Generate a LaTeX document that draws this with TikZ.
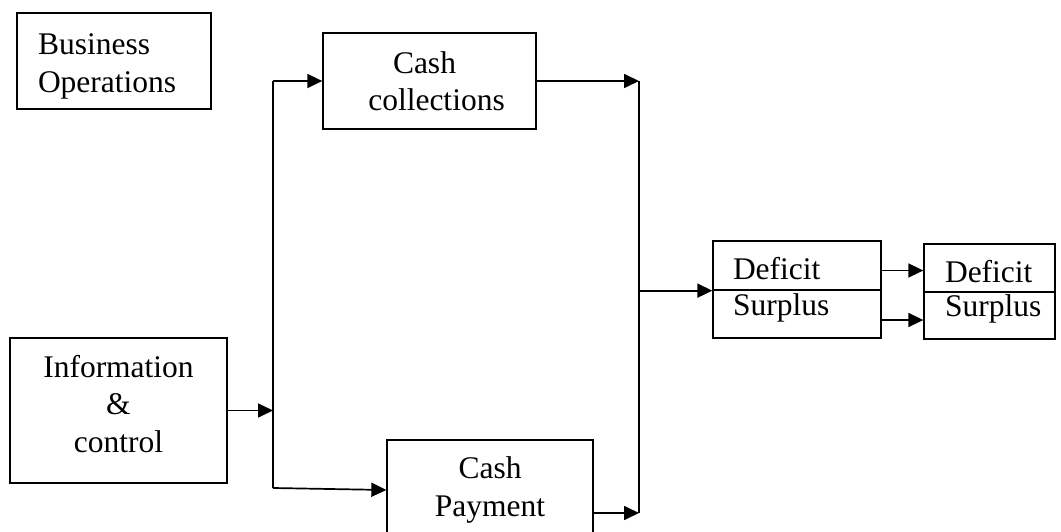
\documentclass[tikz,border=0pt]{standalone}
\usepackage{fontspec}
\setmainfont{Liberation Serif}
\usetikzlibrary{arrows.meta}

\begin{document}
\begin{tikzpicture}[x=1pt,y=-1pt,
    box/.style={draw,line width=1.3pt,font=\fontsize{31.5}{37.5}\selectfont},
    cell/.style={box,align=left,inner xsep=20pt,inner ysep=2pt,text width=#1},
    arr/.style={line width=1.7pt,-{Triangle[length=15pt,width=14pt]}}]
    \useasboundingbox (0,0) rectangle (1061,532);
    \node[box,minimum width=194pt,minimum height=96pt,text width=152pt,inner xsep=21pt,align=left] (biz) at (114,61) {\rule{0pt}{32pt}Business\\Operations};
    \node[box,minimum width=213pt,minimum height=96pt,align=center] (coll) at (429.5,81) {Cash\hspace*{10pt}\\\hspace*{14pt}collections};
    \node[box,minimum width=217pt,minimum height=145pt,align=center] (info) at (118.5,410.5) {Information\\\&\\control\rule[-13.5pt]{0pt}{0pt}};
    \node[box,minimum width=206pt,minimum height=100pt,align=center] (pay) at (490,490) {Cash\\Payment};
    % deficit / surplus boxes
    \node[cell=128pt,minimum width=168pt,minimum height=49pt,text height=28pt,text depth=0pt] (deftopa) at (797,265.5) {Deficit};
    \node[cell=128pt,minimum width=168pt,minimum height=48pt,text height=15pt,text depth=13pt] (surbota) at (797,314) {Surplus};
    \node[cell=89pt,inner xsep=21pt,minimum width=131pt,minimum height=48pt,text height=28pt,text depth=0pt] (deftopb) at (989.5,268) {Deficit};
    \node[cell=89pt,inner xsep=21pt,minimum width=131pt,minimum height=47pt,text height=15pt,text depth=13pt] (surbotb) at (989.5,315.5) {Surplus};
    \coordinate (splita) at (273,81);
    \coordinate (splitb) at (273,488);
    \coordinate (joina) at (639,81);
    \coordinate (joinb) at (639,513);
    \draw[arr] (info.east) -- (info.east -| splita);
    \draw[line width=1.7pt] (splita) -- (splitb);
    \draw[arr] (splita) -- (coll.west);
    \draw[arr] (splitb) -- (pay.west);
    \draw[arr] (coll.east) -- (joina);
    \draw[arr] (pay.east |- joinb) -- (joinb);
    \draw[line width=1.7pt] (joina) -- (joinb);
    \draw[arr] (joina |- deftopa.south) -- (deftopa.south west);
    \draw[arr] ([yshift=-5pt]deftopa.east) -- ([yshift=-5pt]deftopa.east -| deftopb.west);
    \draw[arr] ([yshift=-6pt]surbota.east) -- ([yshift=-6pt]surbota.east -| surbotb.west);
\end{tikzpicture}
\end{document}
